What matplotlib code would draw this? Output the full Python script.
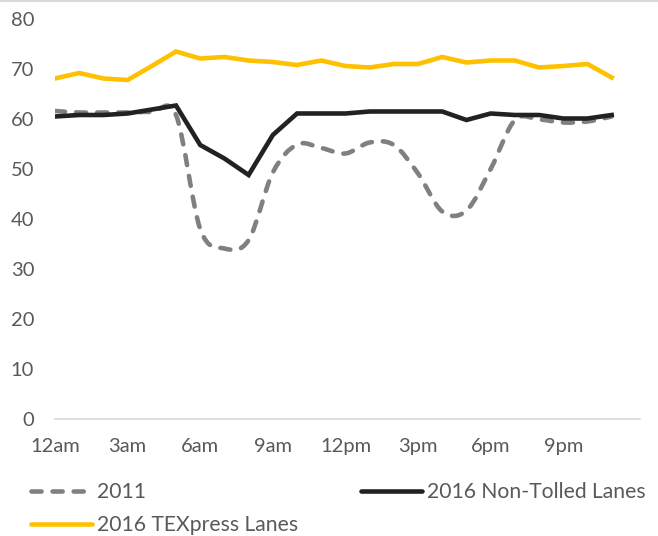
import matplotlib
matplotlib.use("Agg")
import matplotlib.pyplot as plt
import numpy as np
from matplotlib.path import Path
from matplotlib.patches import PathPatch
from matplotlib.lines import Line2D

# average speed (mph) by hour of day, 12am .. 11pm
hours = list(range(24))
speed_2011 = [61.6, 61.3, 61.3, 61.3, 61.4, 60.8, 38.0, 34.1, 35.8, 49.3, 54.9, 54.2,
              53.1, 55.3, 54.8, 49.1, 41.5, 41.7, 50.0, 59.8, 59.9, 59.3, 59.5, 60.5]
non_tolled = [60.5, 60.8, 60.8, 61.1, 61.9, 62.7, 54.8, 52.1, 48.8, 56.8, 61.1, 61.1,
              61.1, 61.5, 61.5, 61.5, 61.5, 59.8, 61.1, 60.8, 60.8, 60.1, 60.1, 60.8]
texpress = [68.1, 69.2, 68.1, 67.8, 70.6, 73.5, 72.1, 72.4, 71.7, 71.4, 70.8, 71.7,
            70.6, 70.3, 71.0, 71.0, 72.4, 71.3, 71.7, 71.7, 70.3, 70.6, 71.0, 68.3]
tick_pos = [0, 3, 6, 9, 12, 15, 18, 21]
tick_lbl = ["12am", "3am", "6am", "9am", "12pm", "3pm", "6pm", "9pm"]

GREY = "#808080"
BLACK = "#222222"
GOLD = "#FFC000"
TXT = "#595959"

plt.rcParams["font.family"] = ["Lato", "DejaVu Sans"]


def smooth_path(x, y):
    # cubic bezier through every point (catmull-rom style control points)
    p = np.column_stack([x, y]).astype(float)
    n = len(p)
    verts = [p[0]]
    codes = [Path.MOVETO]
    for i in range(n - 1):
        p0 = p[i - 1] if i > 0 else p[i]
        p3 = p[i + 2] if i + 2 < n else p[i + 1]
        c1 = p[i] + (p[i + 1] - p0) / 6.0
        c2 = p[i + 1] - (p3 - p[i]) / 6.0
        verts += [c1, c2, p[i + 1]]
        codes += [Path.CURVE4] * 3
    return Path(verts, codes)


fig = plt.figure(figsize=(6.58, 5.36), dpi=100)
ax = fig.add_axes([55 / 658, 1 - 419 / 536, 585 / 658, 400 / 536])

dash = (0, (2.2, 2.4))
lw = 3.3

patch = PathPatch(smooth_path(hours, speed_2011), fill=False, edgecolor=GREY,
                  linewidth=lw, linestyle=dash, capstyle="round", joinstyle="round",
                  zorder=2)
ax.add_patch(patch)
ax.plot(hours, non_tolled, color=BLACK, lw=lw, solid_joinstyle="miter", zorder=3)
ax.plot(hours, texpress, color=GOLD, lw=lw, solid_joinstyle="miter", zorder=3)

ax.set_xlim(0, 24.17)
ax.set_ylim(0, 80)
ax.set_yticks(range(0, 81, 10))
ax.set_xticks(tick_pos)
ax.set_xticklabels(tick_lbl)
ax.tick_params(axis="both", length=0, colors=TXT, labelsize=14.5)
ax.tick_params(axis="y", pad=15)
ax.tick_params(axis="x", pad=14)
for s in ["top", "right", "left"]:
    ax.spines[s].set_visible(False)
ax.spines["bottom"].set_color("#d9d9d9")
ax.spines["bottom"].set_linewidth(1.2)

# thin rule along the top edge
fig.add_artist(Line2D([0, 1], [0.998, 0.998], transform=fig.transFigure,
                      color="#d9d9d9", lw=1.5))

h2011 = Line2D([], [], color=GREY, lw=lw, linestyle=dash, dash_capstyle="round")
hnon = Line2D([], [], color=BLACK, lw=lw, solid_capstyle="round")
htex = Line2D([], [], color=GOLD, lw=lw, solid_capstyle="round")
leg = fig.legend([h2011, htex, hnon],
                 ["2011", "2016 TEXpress Lanes", "2016 Non-Tolled Lanes"],
                 ncol=2, loc="upper left", bbox_to_anchor=(31 / 658, 1 - 482 / 536),
                 frameon=False, fontsize=15.2, handlelength=2.9, handletextpad=0.25,
                 columnspacing=2.95, labelspacing=0.62, borderpad=0, borderaxespad=0)
for t in leg.get_texts():
    t.set_color(TXT)

fig.savefig("out.png", dpi=100)
